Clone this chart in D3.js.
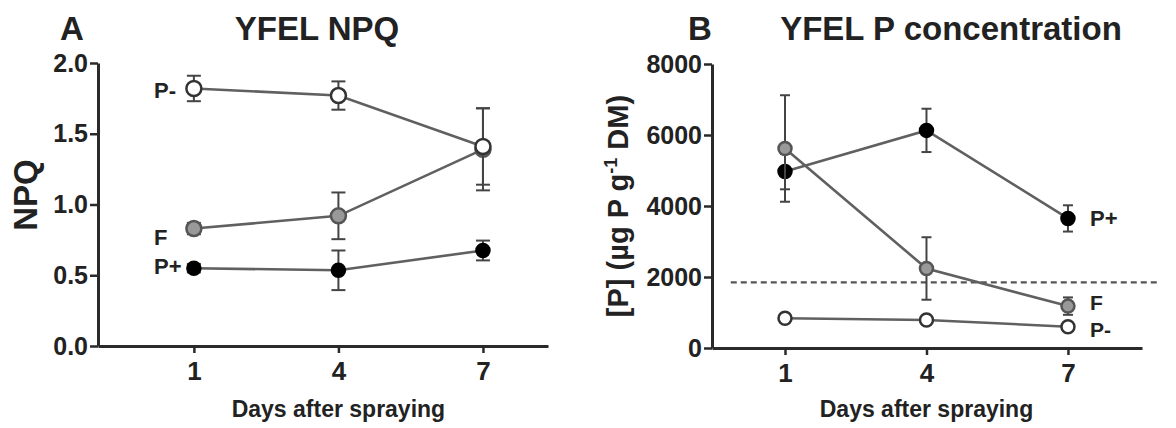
<!DOCTYPE html>
<html>
<head>
<meta charset="utf-8">
<script src="https://cdn.jsdelivr.net/npm/d3@7"></script>
<style>
  body { margin: 0; background: #fff; }
  text { font-family: "Liberation Sans", Arial, sans-serif; font-weight: bold; fill: #222; }
</style>
</head>
<body>
<div id="chart"></div>
<script>
// data
var days = [1, 4, 7];

// panel A - NPQ
var npqPminus = [1.82, 1.77, 1.41];
var npqPminusErr = [0.09, 0.10, 0.27];
var npqF = [0.83, 0.92, 1.39];
var npqFErr = [0.04, 0.165, 0.29];
var npqPplus = [0.55, 0.535, 0.675];
var npqPplusErr = [0.03, 0.14, 0.07];
var npqTicks = [0, 0.5, 1.0, 1.5, 2.0];

// panel B - P concentration
var concPplus = [4970, 6130, 3650];
var concPplusErr = [500, 610, 370];
var concF = [5620, 2240, 1180];
var concFErr = [1500, 880, 245];
var concPminus = [836, 790, 600];
var concPminusErr = [60, 60, 60];
var concTicks = [0, 2000, 4000, 6000, 8000];
var threshold = 1850;

var svg = d3.select("#chart").append("svg")
  .attr("width", 1176)
  .attr("height", 428);

var axisColor = "#2a2a2a";
var lineColor = "#606060";

function toRows(vals, errs) {
  return days.map(function(d, i) { return {day: d, v: vals[i], e: errs[i]}; });
}

function drawPanel(cfg) {
  var x = d3.scaleLinear().domain(cfg.xDomain).range(cfg.xRange);
  var y = d3.scaleLinear().domain(cfg.yDomain).range(cfg.yRange);
  var g = svg.append("g");

  // axes
  var yAxis = g.append("g")
    .attr("transform", "translate(" + cfg.xRange[0] + ",0)")
    .call(d3.axisLeft(y).tickValues(cfg.yTicks).tickFormat(cfg.yFormat).tickSize(8).tickSizeOuter(0).tickPadding(2));
  var xAxis = g.append("g")
    .attr("transform", "translate(0," + cfg.yRange[0] + ")")
    .call(d3.axisBottom(x).tickValues(days).tickSize(7).tickSizeOuter(0).tickPadding(9));
  [yAxis, xAxis].forEach(function(a) {
    a.select(".domain").attr("stroke", axisColor).attr("stroke-width", 3);
    a.selectAll(".tick line").attr("stroke", axisColor).attr("stroke-width", 2.5);
    a.selectAll(".tick text").attr("fill", "#222").style("font-size", "25px")
      .style("font-family", "'Liberation Sans', Arial, sans-serif").style("font-weight", "bold");
  });
  xAxis.selectAll(".tick text").style("font-size", "26px");

  // dashed reference line
  if (cfg.hline != null) {
    g.append("line")
      .attr("x1", x(cfg.hlineFrom)).attr("x2", x(cfg.hlineTo))
      .attr("y1", y(cfg.hline)).attr("y2", y(cfg.hline))
      .attr("stroke", "#555").attr("stroke-width", 2.2)
      .attr("stroke-dasharray", "6,4");
  }

  var line = d3.line().x(function(d) { return x(d.day); }).y(function(d) { return y(d.v); });

  cfg.series.forEach(function(s) {
    var rows = toRows(s.vals, s.errs);
    g.append("path").datum(rows)
      .attr("d", line).attr("fill", "none")
      .attr("stroke", lineColor).attr("stroke-width", 2.6);

    var eb = g.append("g").selectAll("g").data(rows).enter().append("g");
    eb.append("line")
      .attr("x1", function(d) { return x(d.day); }).attr("x2", function(d) { return x(d.day); })
      .attr("y1", function(d) { return y(d.v + d.e); }).attr("y2", function(d) { return y(d.v - d.e); })
      .attr("stroke", "#444").attr("stroke-width", 2);
    [1, -1].forEach(function(sign) {
      eb.append("line")
        .attr("x1", function(d) { return x(d.day) - cfg.cap; })
        .attr("x2", function(d) { return x(d.day) + cfg.cap; })
        .attr("y1", function(d) { return y(d.v + sign * d.e); })
        .attr("y2", function(d) { return y(d.v + sign * d.e); })
        .attr("stroke", "#444").attr("stroke-width", 2);
    });

    g.append("g").selectAll("circle").data(rows).enter().append("circle")
      .attr("cx", function(d) { return x(d.day); })
      .attr("cy", function(d) { return y(d.v); })
      .attr("r", s.r || cfg.r)
      .attr("fill", s.fill)
      .attr("stroke", s.stroke).attr("stroke-width", 2.5);
  });

  // series labels
  cfg.labels.forEach(function(l) {
    g.append("text")
      .attr("x", l.x).attr("y", l.y)
      .attr("text-anchor", l.anchor || "start")
      .style("font-size", l.size + "px")
      .text(l.text);
  });

  // panel letter and title
  g.append("text").attr("x", cfg.letterX).attr("y", 40)
    .attr("text-anchor", "middle").style("font-size", "33px").text(cfg.letter);
  g.append("text").attr("x", cfg.titleX).attr("y", 40)
    .attr("text-anchor", "middle").style("font-size", "33px").text(cfg.title);

  // x axis title
  g.append("text")
    .attr("x", (x(1) + x(7)) / 2).attr("y", 417)
    .attr("text-anchor", "middle").style("font-size", "23px")
    .text("Days after spraying");

  return {x: x, y: y, g: g};
}

// Panel A
var pa = drawPanel({
  xDomain: [-0.99, 8.35], xRange: [98, 548],
  yDomain: [0, 2], yRange: [346, 63],
  yTicks: npqTicks, yFormat: d3.format(".1f"),
  r: 7.5, cap: 7,
  series: [
    {vals: npqF, errs: npqFErr, fill: "#999", stroke: "#555"},
    {vals: npqPplus, errs: npqPplusErr, fill: "#000", stroke: "#000", r: 6.5},
    {vals: npqPminus, errs: npqPminusErr, fill: "#fff", stroke: "#333"}
  ],
  labels: [
    {text: "P-", x: 154, y: 98, size: 22},
    {text: "F", x: 154, y: 245, size: 22},
    {text: "P+", x: 154, y: 274, size: 22}
  ],
  letter: "A", letterX: 72, title: "YFEL NPQ", titleX: 317
});
pa.g.append("text")
  .attr("transform", "translate(37,195) rotate(-90)")
  .attr("text-anchor", "middle").style("font-size", "33px")
  .text("NPQ");

// Panel B
var pb = drawPanel({
  xDomain: [-0.548, 8.57], xRange: [712, 1142],
  yDomain: [0, 8000], yRange: [348, 64],
  yTicks: concTicks, yFormat: d3.format("d"),
  r: 6.5, cap: 5,
  hline: threshold, hlineFrom: -0.15, hlineTo: 8.89,
  series: [
    {vals: concPminus, errs: concPminusErr, fill: "#fff", stroke: "#333"},
    {vals: concPplus, errs: concPplusErr, fill: "#000", stroke: "#000"},
    {vals: concF, errs: concFErr, fill: "#999", stroke: "#555"}
  ],
  labels: [
    {text: "P+", x: 1090, y: 226, size: 22},
    {text: "F", x: 1090, y: 310, size: 21},
    {text: "P-", x: 1090, y: 337, size: 21}
  ],
  letter: "B", letterX: 700, title: "YFEL P concentration", titleX: 951
});
var yl = pb.g.append("text")
  .attr("transform", "translate(628,206) rotate(-90)")
  .attr("text-anchor", "middle").style("font-size", "29px");
yl.append("tspan").text("[P] (µg P g");
yl.append("tspan").attr("dy", -11).style("font-size", "18px").text("-1");
yl.append("tspan").attr("dy", 11).text(" DM)");
</script>
</body>
</html>
